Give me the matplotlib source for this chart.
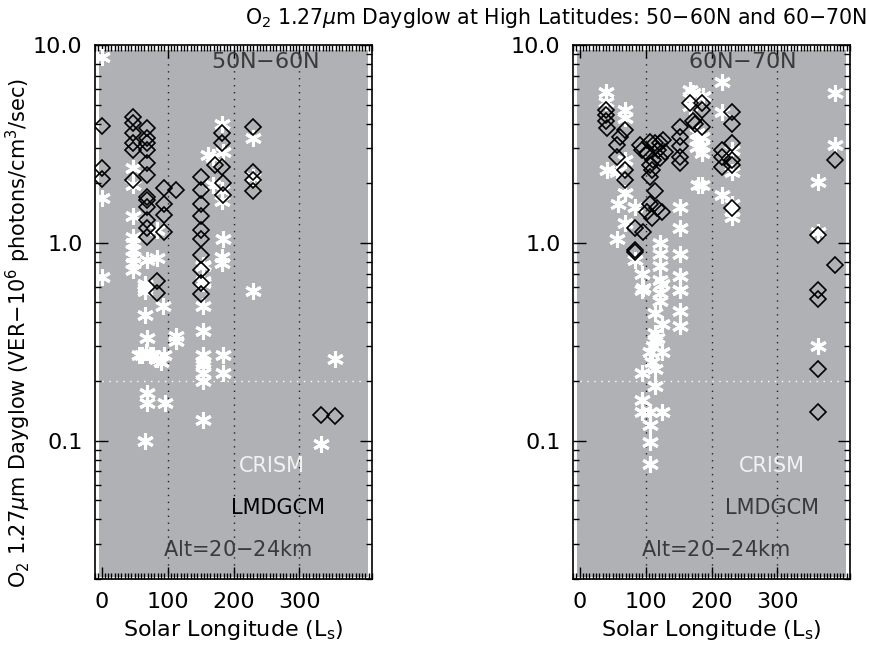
import numpy as np
import matplotlib
matplotlib.use('Agg')
from matplotlib import pyplot as plt
from matplotlib.ticker import FixedLocator, NullFormatter, MultipleLocator

# 50N-60N, CRISM (Ls, VER)
ls_crism_50 = [1, 1, 1, 47.5, 47.5, 47.5, 47.5, 47.5, 47.5, 47.5, 47.5, 47.5,
               65.8, 65.8, 65.8, 65.8, 65.8, 69.4, 69.4, 83.5, 83.5, 93.6, 112.7, 112.7,
               56.3, 61.8, 67.4, 72.9, 78.4, 83.9, 89.5, 95,
               153.6, 153.6, 153.6, 153.6, 153.6, 153.6, 153.6, 153.6, 153.6, 153.6, 153.6, 161.3,
               183.4, 183.4, 229.9, 353.6, 332.6, 69.4, 69.4, 96.1, 65.8,
               182.3, 184.5, 169.1, 169.1, 182.3, 182.3, 184.5, 182.3, 182.3, 153.6, 229.9, 229.9]
ver_crism_50 = [8.7, 1.69, 0.67, 2.38, 1.96, 1.36, 1.07, 1.0, 0.92, 0.85, 0.79, 0.73,
                0.62, 0.59, 0.61, 0.57, 0.43, 0.33, 0.82, 0.84, 1.16, 0.48, 0.34, 0.32,
                0.27, 0.27, 0.28, 0.27, 0.27, 0.26, 0.25, 0.27,
                0.27, 0.25, 0.24, 0.22, 0.2, 0.625, 0.48, 0.36, 0.127, 0.76, 0.64, 2.78,
                0.27, 0.22, 0.57, 0.26, 0.096, 0.175, 0.155, 0.155, 0.1,
                4.0, 2.89, 2.72, 1.96, 1.85, 1.62, 1.05, 0.85, 0.79, 0.77, 3.38, 2.16]

# 50N-60N, LMD GCM
ls_gcm_50 = [1, 1, 1, 47.5, 47.5, 47.5, 47.5, 47.5, 47.5,
             68.5, 68.5, 68.5, 68.5, 68.5, 68.5, 68.5, 68.5, 68.5, 68.5, 68.5, 68.5,
             93.9, 93.9, 93.9, 93.9, 112.7, 83.9, 83.9,
             151.4, 151.4, 151.4, 151.4, 151.4, 151.4, 151.4, 151.4, 151.4, 151.4,
             182.3, 182.3, 172.4, 182.3, 184.5, 184.5, 229.9, 229.9, 229.9, 229.9, 332.6, 353.6]
ver_gcm_50 = [3.9, 2.38, 2.1, 4.35, 4.02, 3.58, 3.19, 2.94, 2.08,
              3.8, 3.38, 3.19, 2.94, 2.52, 2.2, 1.71, 1.65, 1.52, 1.31, 1.19, 1.07,
              1.89, 1.58, 1.38, 1.14, 1.85, 0.64, 0.56,
              2.16, 1.85, 1.58, 1.36, 1.16, 1.04, 0.87, 0.73, 0.63, 0.55,
              3.58, 3.19, 2.48, 2.42, 2.0, 1.75, 3.87, 2.29, 2.08, 1.82, 0.135, 0.134]

# 60N-70N, CRISM
ls_crism_60 = [39.7, 39.7, 68.5, 68.5, 40.8, 56.3, 68.5, 58.5, 68.5, 83.9, 68.5, 56.3, 83.9,
               152.5, 152.5, 152.5, 152.5, 152.5, 121.5, 121.5, 121.5, 121.5, 121.5, 93.9, 93.9,
               166.8, 166.8, 166.8, 177.9, 177.9, 177.9, 180.1,
               96.1, 124.8, 152.5, 121.5, 114.9, 124.8, 152.5, 152.5, 114.9, 114.9, 107.2, 124.8,
               93.9, 114.9, 114.9,
               93.9, 93.9, 107.2, 124.8, 107.2, 107.2, 107.2, 111.6, 117.1, 109.4,
               215.5, 215.5, 231, 231, 215.5, 231, 231, 231, 185.6,
               386.8, 386.8, 361.4, 361.4, 361.4, 172.4, 187.8, 185.6, 185.6, 185.6]
ver_crism_60 = [5.8, 5.17, 4.7, 4.3, 2.33, 2.29, 2.62, 1.58, 1.78, 1.52, 1.26, 1.05, 0.82,
                1.52, 1.19, 0.88, 0.68, 0.58, 1.0, 0.88, 0.76, 0.65, 0.56, 0.7, 0.58,
                5.9, 5.4, 4.9, 3.6, 3.3, 3.06, 1.96,
                0.59, 0.62, 0.58, 0.51, 0.44, 0.39, 0.45, 0.38, 0.35, 0.32, 0.28, 0.28,
                0.22, 0.23, 0.19,
                0.16, 0.14, 0.14, 0.14, 0.12, 0.098, 0.076, 0.3, 0.33, 0.25,
                6.53, 4.6, 2.94, 2.29, 1.74, 1.58, 1.45, 1.35, 1.96,
                5.7, 3.12, 2.04, 1.14, 0.3, 5.7, 5.5, 3.44, 3.07, 2.83]

# 60N-70N, LMD GCM
ls_gcm_60 = [39.7, 39.7, 39.7, 41.9, 68.5, 60.7, 56.3, 56.3, 68.5, 68.5, 83.9, 96.1, 83.9, 83.9,
             91.7, 93.9, 101.6, 107.2, 113.8, 119.3, 121.5, 127.1, 129.3, 121.5, 111.6, 107.2,
             109.4, 107.2, 113.8, 107.2, 117.1, 124.8, 101.6, 109.4,
             152.5, 152.5, 152.5, 152.5, 152.5, 166.8, 174.6, 185.6, 185.6, 172.4, 185.6,
             231, 231, 231, 215.5, 215.5, 215.5, 231, 231, 231,
             386.8, 361.4, 386.8, 361.4, 361.4, 361.4, 361.4]
ver_gcm_60 = [4.7, 4.43, 4.14, 3.79, 3.72, 3.44, 3.12, 2.73, 2.33, 2.07, 1.19, 1.14, 0.92, 0.9,
              3.12, 2.94, 2.83, 3.24, 3.19, 2.94, 3.19, 3.31, 2.89, 2.68, 2.62, 2.47,
              2.33, 2.16, 1.82, 1.58, 1.5, 1.44, 1.44, 1.33,
              3.87, 3.44, 3.07, 2.73, 2.52, 5.07, 4.0, 5.07, 4.7, 4.12, 3.87,
              4.6, 4.0, 3.19, 2.94, 2.73, 2.43, 2.62, 2.47, 1.5,
              2.62, 1.1, 0.77, 0.58, 0.52, 0.23, 0.14]

grid_ls = [100, 200, 300]
ytick_vals = [0.1, 1.0, 10.0]
ytick_labels = ['0.1', '1.0', '10.0']

panels = [
    (ls_crism_50, ver_crism_50, ls_gcm_50, ver_gcm_50, '50N$-$60N', 0.614, 0.64, 0.661, 'black'),
    (ls_crism_60, ver_crism_60, ls_gcm_60, ver_gcm_60, '60N$-$70N', 0.610, 0.718, 0.718, '#3a3a3a'),
]

fig = plt.figure(figsize=(8.69, 6.58), dpi=100)
star = (6, 2, 0)
gray = '#b0b1b5'
lefts = [95 / 869, 573 / 869]

for k, (lc, vc, lg, vg, lab, lab_x, crism_x, gcm_x, gcm_col) in enumerate(panels):
    ax = fig.add_axes([lefts[k], 79 / 658, 277 / 869, 534 / 658])
    ax.set_yscale('log')
    ax.set_xlim(-10, 410)
    ax.set_ylim(0.02, 10)
    ax.fill_between([-4, 404], 0.0205, 9.4, color=gray, lw=0, zorder=0)
    for s in grid_ls:
        ax.axvline(s, color='#222222', ls=(0, (1, 4)), lw=1.0, zorder=1)
    ax.axhline(0.2, color='white', ls=(0, (1, 4)), lw=1.0, zorder=1)
    ax.plot(lc, vc, ls='none', marker=star, ms=12, mec='white', mew=2.2, zorder=2)
    ax.plot(lg, vg, ls='none', marker='D', ms=8, mfc='none', mec='black', mew=1.2, zorder=3)

    ax.yaxis.set_major_locator(FixedLocator(ytick_vals))
    ax.set_yticklabels(ytick_labels)
    minors = [m * 10.0 ** e for e in (-2, -1, 0) for m in range(2, 10)]
    ax.yaxis.set_minor_locator(FixedLocator(minors))
    ax.yaxis.set_minor_formatter(NullFormatter())
    ax.xaxis.set_major_locator(FixedLocator([0, 100, 200, 300]))
    ax.xaxis.set_minor_locator(MultipleLocator(5))
    ax.tick_params(which='both', direction='in', top=True, right=True, labelsize=16, width=1.0)
    ax.tick_params(which='major', length=9, pad=9)
    ax.tick_params(which='minor', length=4)
    ax.set_facecolor('white')
    for sp in ax.spines.values():
        sp.set_linewidth(1.2)
    ax.set_xlabel('Solar Longitude (L$_{\\rm s}$)', fontsize=16, labelpad=5)

    ax.text(lab_x, 0.968, lab, transform=ax.transAxes, ha='center', va='center',
            fontsize=16, color='#3a3a3a', zorder=4)
    ax.text(crism_x, 0.212, 'CRISM', transform=ax.transAxes,
            ha='center', va='center', fontsize=15, color='#f2f2f2', zorder=4)
    ax.text(gcm_x, 0.133, 'LMDGCM', transform=ax.transAxes, ha='center', va='center',
            fontsize=15, color=gcm_col, zorder=4)
    ax.text(0.513, 0.054, 'Alt=20$-$24km', transform=ax.transAxes, ha='center', va='center',
            fontsize=15, color='#3a3a3a', zorder=4)

fig.text(0.997, 0.972, 'O$_2$ 1.27$\\mu$m Dayglow at High Latitudes: 50$-$60N and 60$-$70N',
         ha='right', va='center', fontsize=14.8)
fig.text(0.021, 0.494, 'O$_2$ 1.27$\\mu$m Dayglow (VER$-$10$^6$ photons/cm$^3$/sec)',
         rotation=90, ha='center', va='center', fontsize=15)

plt.savefig('out.png', dpi=100)
